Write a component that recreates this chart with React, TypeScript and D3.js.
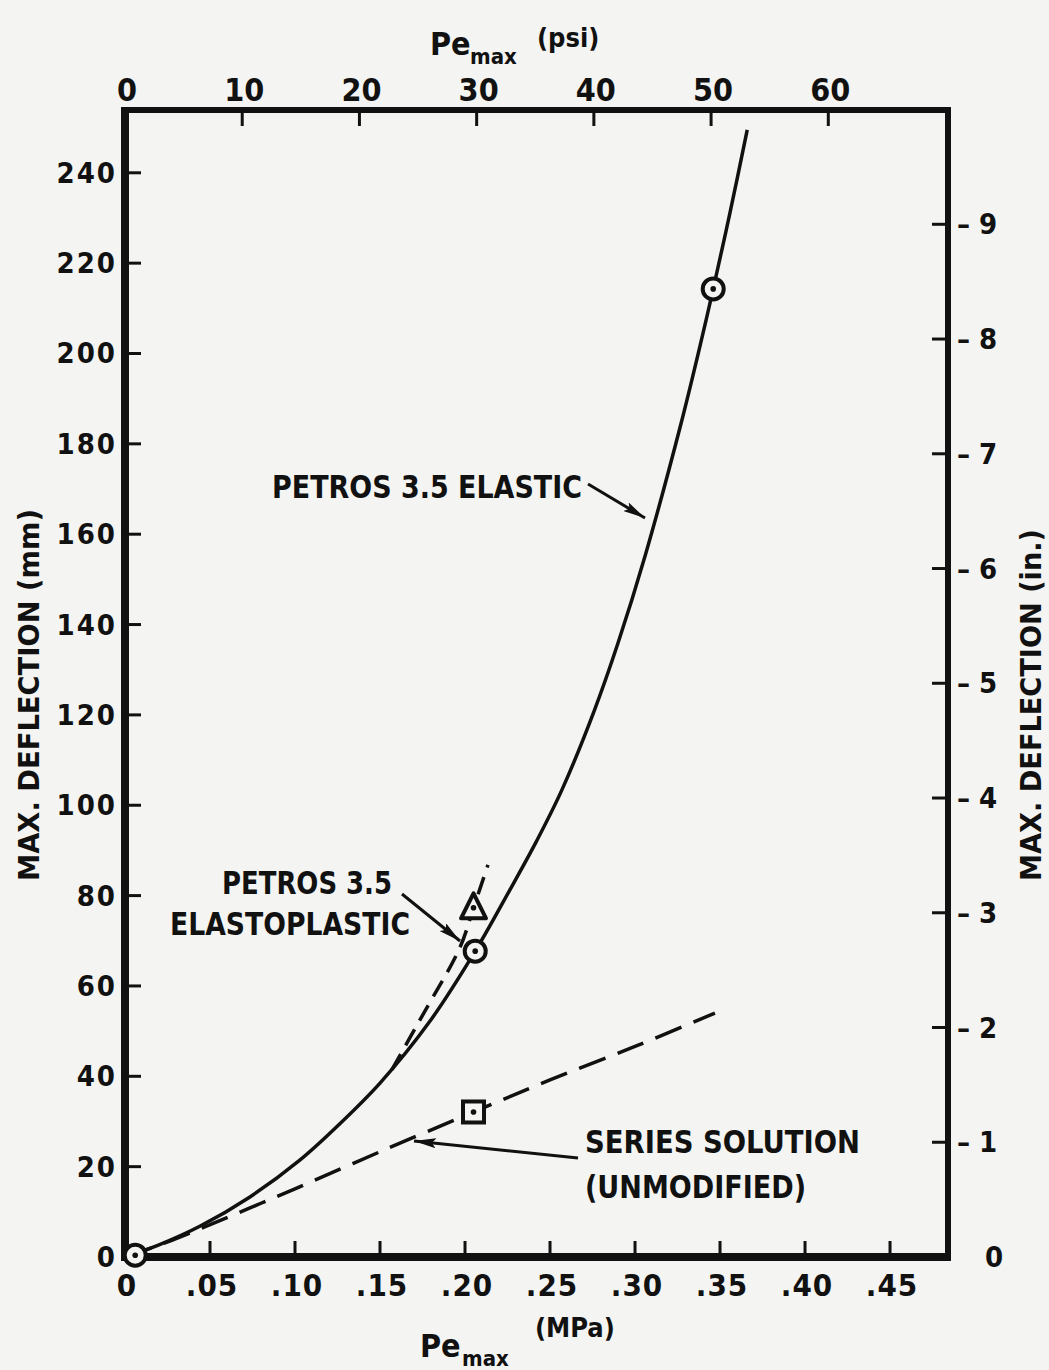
import React from 'react';
import * as d3 from 'd3';

// Pe_max (MPa) vs max. deflection (mm)
const elasticCurve: [number, number][] = [
  [0, 0], [0.02, 2.7], [0.044, 6.8], [0.0735, 13.3], [0.103, 21.5], [0.125, 29],
  [0.15, 38.5], [0.179, 52], [0.206, 67.7], [0.226, 81], [0.242, 92], [0.257, 103.4],
  [0.276, 120.9], [0.29, 135.9], [0.306, 155.3], [0.327, 184.4], [0.338, 201.3],
  [0.346, 214.3], [0.356, 231.4], [0.366, 249.5],
];
const elastoplasticCurve: [number, number][] = [
  [0.157, 41.5], [0.175, 53.5], [0.197, 68.5], [0.205, 77.3], [0.2135, 86.8],
];
const seriesCurve: [number, number][] = [
  [0, 0], [0.02, 2.6], [0.04, 5.6], [0.06, 8.7], [0.08, 11.9], [0.1, 15.1],
  [0.15, 23.3], [0.205, 32.1], [0.25, 39.2], [0.3, 46.6], [0.347, 54],
];
const circlePoints: [number, number][] = [[0.006, 0.4], [0.206, 67.7], [0.346, 214.3]];
const trianglePoints: [number, number][] = [[0.205, 77.3]];
const squarePoints: [number, number][] = [[0.205, 32.1]];

const mpaTicks = [0, 0.05, 0.1, 0.15, 0.2, 0.25, 0.3, 0.35, 0.4, 0.45];
const mpaLabels = ['0', '.05', '.10', '.15', '.20', '.25', '.30', '.35', '.40', '.45'];
const psiTicks = [0, 10, 20, 30, 40, 50, 60];
const mmTicks = [0, 20, 40, 60, 80, 100, 120, 140, 160, 180, 200, 220, 240];
const inchTicks = [0, 1, 2, 3, 4, 5, 6, 7, 8, 9];

const PSI_TO_MPA = 0.0068948;
const MM_PER_IN = 25.4;

const INK = '#111';
const PAPER = '#f4f4f2';
const FONT = "'DejaVu Sans Condensed', 'DejaVu Sans', sans-serif";

export default function App() {
  const left = 125, right = 948, top = 110, bottom = 1257;
  const xMax = 0.4841, yMax = 253.9;

  const x = d3.scaleLinear().domain([0, xMax]).range([left, right]);
  const xPsi = d3.scaleLinear().domain([0, xMax / PSI_TO_MPA]).range([left, right]);
  const y = d3.scaleLinear().domain([0, yMax]).range([bottom, top]);
  const yIn = d3.scaleLinear().domain([0, yMax / MM_PER_IN]).range([bottom, top]);

  const line = d3.line<[number, number]>()
    .x(d => x(d[0]))
    .y(d => y(d[1]))
    .curve(d3.curveCatmullRom.alpha(0.5));

  const tick = 16;
  const txt = { fontFamily: FONT, fontWeight: 700, fontStretch: 'condensed' as const, fill: INK };

  const tri = (cx: number, cy: number) => {
    const s = 12.5;
    return `M${cx},${cy - s - 2} L${cx + s},${cy + s - 2} L${cx - s},${cy + s - 2} Z`;
  };

  return (
    <svg width={1049} height={1370} style={{ position: 'absolute', left: 0, top: 0, background: PAPER }}>
      <defs>
        <marker id="head" viewBox="0 0 22 10" refX="22" refY="5" markerWidth="22" markerHeight="10"
          markerUnits="userSpaceOnUse" orient="auto">
          <path d="M0,0 L22,5 L0,10 L4,5 Z" fill={INK} />
        </marker>
      </defs>

      {/* frame */}
      <line x1={left} y1={top - 3} x2={left} y2={bottom + 4} stroke={INK} strokeWidth={8} />
      <line x1={left - 4} y1={bottom} x2={right + 3} y2={bottom} stroke={INK} strokeWidth={8} />
      <line x1={left - 4} y1={top} x2={right + 3} y2={top} stroke={INK} strokeWidth={6} />
      <line x1={right} y1={top - 3} x2={right} y2={bottom + 4} stroke={INK} strokeWidth={6} />

      {/* bottom axis (MPa) */}
      {mpaTicks.map((t, i) => (
        <g key={'b' + i}>
          {t > 0 && <line x1={x(t)} x2={x(t)} y1={bottom} y2={bottom - tick} stroke={INK} strokeWidth={3} />}
          <text {...txt} x={x(t) + 2} y={bottom + 28} fontSize={31} textAnchor="middle" dominantBaseline="central"
            letterSpacing={1}>{mpaLabels[i]}</text>
        </g>
      ))}

      {/* top axis (psi) */}
      {psiTicks.map((t, i) => (
        <g key={'t' + i}>
          {t > 0 && <line x1={xPsi(t)} x2={xPsi(t)} y1={top} y2={top + tick} stroke={INK} strokeWidth={3} />}
          <text {...txt} x={xPsi(t) + 2} y={top - 20} fontSize={32} textAnchor="middle" dominantBaseline="central">{t}</text>
        </g>
      ))}

      {/* left axis (mm) */}
      {mmTicks.map((t, i) => (
        <g key={'l' + i}>
          {t > 0 && <line x1={left} x2={left + tick} y1={y(t)} y2={y(t)} stroke={INK} strokeWidth={3} />}
          <text {...txt} x={left - 8} y={y(t)} fontSize={29} textAnchor="end" dominantBaseline="central"
            letterSpacing={2}>{t}</text>
        </g>
      ))}

      {/* right axis (in.) */}
      {inchTicks.map((t, i) => (
        <g key={'r' + i}>
          {t > 0 && <line x1={right} x2={right - tick} y1={yIn(t)} y2={yIn(t)} stroke={INK} strokeWidth={3} />}
          <text {...txt} x={t > 0 ? right + 9 : right + 37} y={yIn(t)} fontSize={29} textAnchor="start"
            dominantBaseline="central">{t > 0 ? `\u2013 ${t}` : '0'}</text>
        </g>
      ))}

      {/* axis titles */}
      <g {...txt}>
        <text x={430} y={55} fontSize={32}>Pe</text>
        <text x={470} y={64} fontSize={22}>max</text>
        <text x={537} y={47} fontSize={27}>(psi)</text>
      </g>
      <g {...txt}>
        <text x={420} y={1357} fontSize={32}>Pe</text>
        <text x={462} y={1366} fontSize={22}>max</text>
        <text x={535} y={1337} fontSize={27}>(MPa)</text>
      </g>
      <text {...txt} fontSize={28} textLength={372} lengthAdjust="spacingAndGlyphs" textAnchor="middle"
        dominantBaseline="central" transform="translate(29,695) rotate(-90)">MAX. DEFLECTION (mm)</text>
      <text {...txt} fontSize={28} textLength={352} lengthAdjust="spacingAndGlyphs" textAnchor="middle"
        dominantBaseline="central" transform="translate(1031,705) rotate(-90)">MAX. DEFLECTION (in.)</text>

      {/* curves */}
      <path d={line(elasticCurve) ?? ''} fill="none" stroke={INK} strokeWidth={3.5} />
      <path d={line(seriesCurve) ?? ''} fill="none" stroke={INK} strokeWidth={3.5} strokeDasharray="28 13" />
      <path d={line(elastoplasticCurve) ?? ''} fill="none" stroke={INK} strokeWidth={3.5} strokeDasharray="18 10" />

      {/* markers */}
      {circlePoints.map((d, i) => (
        <g key={'c' + i}>
          <circle cx={x(d[0])} cy={y(d[1])} r={10.5} fill={PAPER} stroke={INK} strokeWidth={4} />
          <circle cx={x(d[0])} cy={y(d[1])} r={2.8} fill={INK} />
        </g>
      ))}
      {trianglePoints.map((d, i) => (
        <g key={'tr' + i}>
          <path d={tri(x(d[0]), y(d[1]))} fill={PAPER} stroke={INK} strokeWidth={4} strokeLinejoin="round" />
          <circle cx={x(d[0])} cy={y(d[1])} r={2.8} fill={INK} />
        </g>
      ))}
      {squarePoints.map((d, i) => (
        <g key={'s' + i}>
          <rect x={x(d[0]) - 10.5} y={y(d[1]) - 10.5} width={21} height={21} fill={PAPER} stroke={INK} strokeWidth={4} />
          <circle cx={x(d[0])} cy={y(d[1])} r={2.8} fill={INK} />
        </g>
      ))}

      {/* annotations */}
      <g {...txt} fontSize={32} dominantBaseline="central">
        <text x={272} y={487} textLength={310} lengthAdjust="spacingAndGlyphs">PETROS 3.5 ELASTIC</text>
        <text x={222} y={883} textLength={170} lengthAdjust="spacingAndGlyphs">PETROS 3.5</text>
        <text x={170} y={924} textLength={240} lengthAdjust="spacingAndGlyphs">ELASTOPLASTIC</text>
        <text x={585} y={1142} textLength={275} lengthAdjust="spacingAndGlyphs">SERIES SOLUTION</text>
        <text x={585} y={1187} textLength={221} lengthAdjust="spacingAndGlyphs">(UNMODIFIED)</text>
      </g>
      <line x1={588} y1={484} x2={645} y2={518} stroke={INK} strokeWidth={3} markerEnd="url(#head)" />
      <line x1={402} y1={894} x2={460} y2={941} stroke={INK} strokeWidth={3} markerEnd="url(#head)" />
      <line x1={578} y1={1158} x2={414} y2={1141} stroke={INK} strokeWidth={3} markerEnd="url(#head)" />
    </svg>
  );
}
